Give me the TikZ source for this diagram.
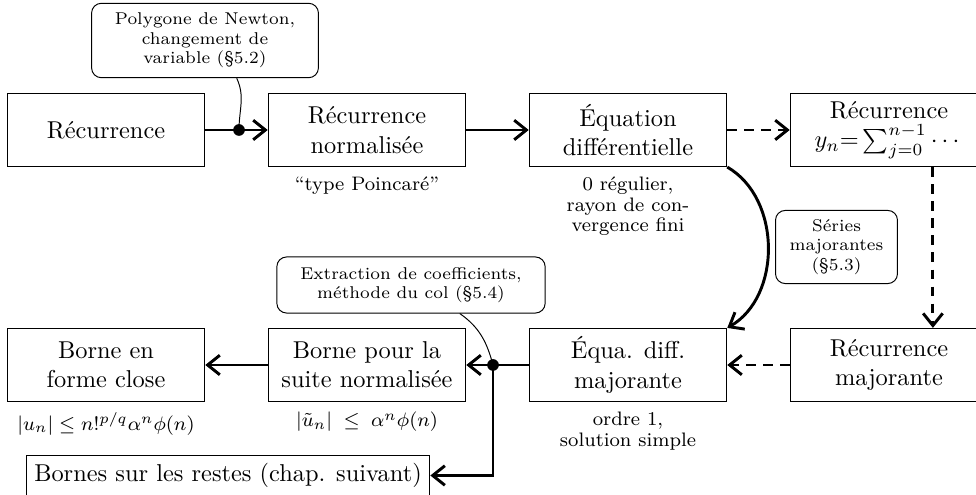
\documentclass[tikz,border=0pt]{standalone}
\usepackage{fontspec}
\usepackage{amsmath}
\usepackage{tikz}
\usetikzlibrary{arrows.meta,positioning}
\tikzset{%
  tipA/.tip={Straight Barb[length=5pt,width=8pt]},
  boxA/.style={draw, thin, minimum width=81pt, minimum height=30pt, align=center, inner sep=2pt},
  bulleA/.style={draw, thin, rounded corners=4pt, align=center, font=\scriptsize, inner sep=3pt},
  noteA/.style={align=center, font=\fontsize{8}{8.4}\selectfont, inner sep=0pt}
}

\begin{document}
\begin{tikzpicture}[x=0.41pt,y=-0.41pt]
\useasboundingbox (0,0) rectangle (976,495);
% rangee du haut
\node[boxA] (rec) at (106,130) {Récurrence};
\node[boxA] (recnorm) at (367,130) {Récurrence\\normalisée};
\node[boxA] (eqdiff) at (628,130) {Équation\\différentielle};
\node[boxA] (recsum) at (889,130) {Récurrence\\$y_n{=}\sum_{j=0}^{n-1}\cdots$};
% rangee du bas
\node[boxA] (borneclose) at (106,365) {Borne en\\forme close};
\node[boxA] (bornenorm) at (367,365) {Borne pour la\\suite normalisée};
\node[boxA] (eqmaj) at (628,365) {Équa. diff.\\majorante};
\node[boxA] (recmaj) at (889,365) {Récurrence\\majorante};
\node[draw, thin] (restes) at (228,475.5) {Bornes sur les restes (chap. suivant)};
% commentaires
\node[noteA, below=4pt of recnorm] (npoinc) {``type Poincaré''};
\node[noteA, below=4pt of eqdiff] (nreg) {0 régulier,\\rayon de con-\\vergence fini};
\node[noteA, below=4pt of borneclose] (nclose) {$|u_n|\leq n!^{p/q}\alpha^n\phi(n)$};
\node[noteA, below=4pt of bornenorm] (nnorm) {$|\tilde u_n|\;\leq\;\alpha^n\phi(n)$};
\node[noteA, below=4pt of eqmaj] (nordre) {ordre 1,\\solution simple};
% bulles
\node[bulleA, minimum width=93pt, minimum height=30.5pt] (newton) at (205,40.5) {Polygone de Newton,\\changement de\\variable (§5.2)};
\node[bulleA, minimum width=110pt, minimum height=23pt] (col) at (411,285) {Extraction de coefficients,\\méthode du col (§5.4)};
\node[bulleA, minimum width=50pt, minimum height=30pt] (series) at (836.5,247) {Séries\\majorantes\\(§5.3)};
\coordinate (jA) at (239,130);
\coordinate (jB) at (493,365);
% fleches
\draw[very thick, -tipA] (rec) -- (recnorm);
\draw[very thick, -tipA] (recnorm) -- (eqdiff);
\draw[very thick, dash pattern=on 4pt off 3pt, -tipA] (eqdiff) -- (recsum);
\draw[very thick, dash pattern=on 4pt off 3pt, -tipA] ([xshift=18pt]recsum.south) -- ([xshift=18pt]recmaj.north);
\draw[very thick, dash pattern=on 4pt off 3pt, -tipA] (recmaj) -- (eqmaj);
\draw[very thick, -tipA] (eqdiff.south east) to[bend left=60] (eqmaj.north east);
\draw[very thick, -tipA] (eqmaj) -- (bornenorm);
\draw[very thick, -tipA] (bornenorm) -- (borneclose);
\draw[very thick, -tipA] (jB) |- (restes);
\draw[thin] ([xshift=13pt]newton.south) to[out=-65,in=90] (jA);
\draw[thin] ([xshift=20pt]col.south) to[out=-35,in=105] (jB);
\fill (jA) circle (2.4pt);
\fill (jB) circle (2.4pt);
\end{tikzpicture}
\end{document}
